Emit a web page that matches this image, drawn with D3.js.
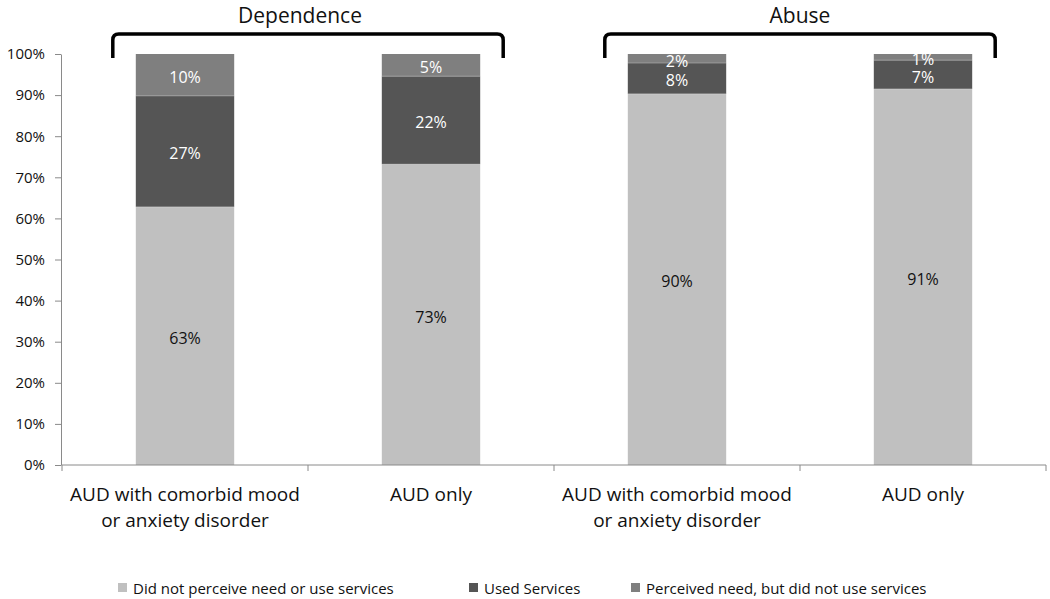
<!DOCTYPE html>
<html><head><meta charset="utf-8">
<script src="https://cdn.jsdelivr.net/npm/d3@7"></script>
<style>body{margin:0;background:#fff}svg{display:block;font-family:'Open Sans',sans-serif}</style>
</head><body><svg id="c" width="1050" height="599"></svg>
<script>
// ---- data ----
const categories = ["dep-comorbid", "dep-only", "abu-comorbid", "abu-only"];
const categoryLabels = [["AUD with comorbid mood", "or anxiety disorder"], ["AUD only"], ["AUD with comorbid mood", "or anxiety disorder"], ["AUD only"]];
const groups = ["Dependence", "Abuse"];
const groupMembers = [[0, 1], [2, 3]];
const seriesNames = ["Did not perceive need or use services", "Used Services", "Perceived need, but did not use services"];
const notPerceived = [62.8, 73.2, 90.3, 91.5];
const usedServices = [27.0, 21.4, 7.5, 7.0];
const perceivedNotUsed = [10.2, 5.4, 2.2, 1.5];
const notPerceivedLabels = ["63%", "73%", "90%", "91%"];
const usedLabels = ["27%", "22%", "8%", "7%"];
const perceivedLabels = ["10%", "5%", "2%", "1%"];
const yTicks = [0, 10, 20, 30, 40, 50, 60, 70, 80, 90, 100];

// ---- setup ----
const svg = d3.select("#c");
const colors = ["#c0c0c0", "#555555", "#7f7f7f"];
const textColors = ["#111", "#fff", "#fff"];
const keys = ["s0", "s1", "s2"];
const labelSets = [notPerceivedLabels, usedLabels, perceivedLabels];
const rows = categories.map((c, i) => ({cat: c, i, s0: notPerceived[i], s1: usedServices[i], s2: perceivedNotUsed[i]}));
const stack = d3.stack().keys(keys)(rows);

const x = d3.scaleBand().domain(categories).range([62, 1046]).paddingInner(0.6).paddingOuter(0.3);
const y = d3.scaleLinear().domain([0, 100]).range([465, 54]);
const axisColor = "#8a8a8a";

// bars
stack.forEach((layer, li) => {
  svg.append("g").selectAll("rect").data(layer).enter().append("rect")
    .attr("x", d => x(d.data.cat))
    .attr("width", x.bandwidth())
    .attr("y", d => y(d[1]))
    .attr("height", d => y(d[0]) - y(d[1]))
    .attr("fill", colors[li]);
});
// thin separators between segments
stack.slice(1).forEach((layer) => {
  svg.append("g").selectAll("line").data(layer).enter().append("line")
    .attr("x1", d => x(d.data.cat)).attr("x2", d => x(d.data.cat) + x.bandwidth())
    .attr("y1", d => y(d[0])).attr("y2", d => y(d[0]))
    .attr("stroke", "#ffffff").attr("stroke-opacity", 0.25).attr("stroke-width", 1);
});
// value labels
stack.forEach((layer, li) => {
  svg.append("g").selectAll("text").data(layer).enter().append("text")
    .attr("x", d => x(d.data.cat) + x.bandwidth() / 2)
    .attr("y", d => (y(d[0]) + y(d[1])) / 2)
    .attr("dy", "0.5em")
    .attr("text-anchor", "middle")
    .attr("font-size", 16)
    .attr("fill", textColors[li])
    .text(d => labelSets[li][d.data.i]);
});

// y axis
const yAxis = svg.append("g").attr("transform", "translate(61,0)")
  .call(d3.axisLeft(y).tickValues(yTicks).tickFormat(d => d + "%").tickSize(6).tickSizeOuter(0).tickPadding(10));
yAxis.select(".domain").attr("stroke", axisColor);
yAxis.selectAll(".tick line").attr("stroke", axisColor);
yAxis.selectAll(".tick text").attr("font-size", 15).attr("fill", "#111").attr("font-family", "'Open Sans',sans-serif");

// x axis
const xr = x.range();
const xg = svg.append("g");
xg.append("line").attr("x1", xr[0]).attr("x2", xr[1]).attr("y1", y(0)).attr("y2", y(0)).attr("stroke", axisColor);
xg.selectAll("line.tk").data(d3.range(categories.length + 1)).enter().append("line").attr("class", "tk")
  .attr("x1", i => xr[0] + i * x.step()).attr("x2", i => xr[0] + i * x.step())
  .attr("y1", y(0)).attr("y2", y(0) + 6).attr("stroke", axisColor);
categories.forEach((c, i) => {
  const t = xg.append("text").attr("text-anchor", "middle").attr("font-size", 19).attr("fill", "#111");
  categoryLabels[i].forEach((ln, j) => {
    t.append("tspan").attr("x", x(c) + x.bandwidth() / 2).attr("y", 501 + j * 26).text(ln);
  });
});

// group brackets + titles
groups.forEach((g, gi) => {
  const m = groupMembers[gi];
  const x0 = x(categories[m[0]]) - 23;
  const x1 = x(categories[m[m.length - 1]]) + x.bandwidth() + 23;
  const yt = 34, ye = 58, r = 6;
  const p = d3.path();
  p.moveTo(x0, ye); p.lineTo(x0, yt + r); p.quadraticCurveTo(x0, yt, x0 + r, yt);
  p.lineTo(x1 - r, yt); p.quadraticCurveTo(x1, yt, x1, yt + r); p.lineTo(x1, ye);
  svg.append("path").attr("d", p.toString()).attr("fill", "none").attr("stroke", "#000").attr("stroke-width", 3.5);
  svg.append("text").attr("x", (x0 + x1) / 2 - (gi === 0 ? 8 : 0)).attr("y", 22.5).attr("text-anchor", "middle")
    .attr("font-size", 21).attr("fill", "#111").text(g);
});

// legend
const legendX = [118, 469, 631];
seriesNames.forEach((s, i) => {
  svg.append("rect").attr("x", legendX[i]).attr("y", 583).attr("width", 9).attr("height", 9).attr("fill", colors[i]);
  svg.append("text").attr("x", legendX[i] + 15).attr("y", 594).attr("font-size", 15).attr("fill", "#111").text(s);
});
</script></body></html>
